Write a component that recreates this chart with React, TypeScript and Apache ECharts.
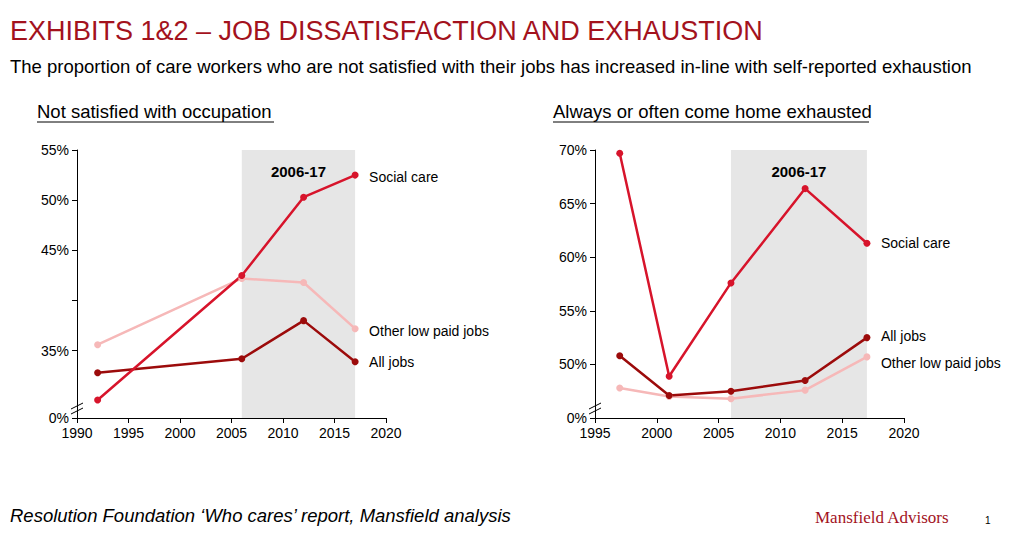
import { useEffect, useRef } from 'react';
import * as echarts from 'echarts';

const leftYears = [1992, 2006, 2012, 2017];
const leftSocial = [30.1, 42.5, 50.3, 52.5];
const leftOther = [35.6, 42.2, 41.8, 37.2];
const leftAll = [32.8, 34.2, 38.0, 33.9];

const rightYears = [1997, 2001, 2006, 2012, 2017];
const rightSocial = [69.7, 48.9, 57.6, 66.4, 61.3];
const rightAll = [50.8, 47.1, 47.5, 48.5, 52.5];
const rightOther = [47.8, 47.0, 46.8, 47.6, 50.7];

const leftTicks = [28.3, 35, 40, 45, 50, 55];
const rightTicks = [45, 50, 55, 60, 65, 70];

const RED = '#d7142b';
const DARK = '#9c0b0b';
const PINK = '#f6b8b8';
const FONT = 'Liberation Sans';

const zip = (xs: number[], ys: number[]) => xs.map((x, i) => [x, ys[i]]);

const App = () => {
  const ref = useRef<HTMLDivElement>(null);

  useEffect(() => {
    if (!ref.current) return;
    const chart = echarts.init(ref.current, undefined, { renderer: 'svg' });

    const xAxisBase = (idx: number, min: number) => ({
      type: 'value' as const, gridIndex: idx, min, max: 2020, interval: 5,
      axisLine: { lineStyle: { color: '#000' } },
      axisTick: { show: true, lineStyle: { color: '#000' } },
      axisLabel: { color: '#000', fontSize: 14, fontFamily: FONT, formatter: (v: number) => String(v) },
      splitLine: { show: false },
    });
    const yAxisBase = (idx: number, min: number, max: number, ticks: number[], blank: number[]) => ({
      type: 'value' as const, gridIndex: idx, min, max,
      axisLine: { show: true, lineStyle: { color: '#000' } },
      axisTick: { show: true, customValues: ticks, lineStyle: { color: '#000' } },
      axisLabel: {
        color: '#000', fontSize: 14, fontFamily: FONT, customValues: ticks,
        formatter: (v: number) => (v === min ? '0%' : blank.includes(v) ? '' : `${v}%`),
      },
      splitLine: { show: false },
    });

    const line = (name: string, color: string, data: number[][], xi: number, offset: number[], extra: any = {}) => ({
      name, type: 'line', xAxisIndex: xi, yAxisIndex: xi, data,
      symbol: 'circle', symbolSize: 7, itemStyle: { color },
      lineStyle: { color, width: 2.5 },
      endLabel: { show: true, formatter: name, color: '#000', fontSize: 14, fontFamily: FONT, offset, distance: 14 },
      ...extra,
    });
    const shade = (label: string, lo: number, hi: number) => ({
      markArea: {
        silent: true,
        itemStyle: { color: '#e6e6e6' },
        label: { show: true, position: 'insideTop', color: '#000', fontSize: 15, fontWeight: 'bold', fontFamily: FONT, distance: 14 },
        data: [[{ coord: [2006, hi], name: label }, { coord: [2017, lo] }]],
      },
    });

    const brk = (x: number, y: number) => [
      { type: 'line', shape: { x1: x - 6, y1: y + 3, x2: x + 6, y2: y - 3 }, style: { stroke: '#000', lineWidth: 1 } },
      { type: 'line', shape: { x1: x - 6, y1: y + 8, x2: x + 6, y2: y + 2 }, style: { stroke: '#000', lineWidth: 1 } },
    ];

    chart.setOption({
      animation: false,
      grid: [
        { left: 77, right: 638, top: 150, bottom: 130 },
        { left: 595, right: 120, top: 150, bottom: 130 },
      ],
      xAxis: [xAxisBase(0, 1990), xAxisBase(1, 1995)],
      yAxis: [
        yAxisBase(0, 28.3, 55, leftTicks, [40]),
        yAxisBase(1, 45, 70, rightTicks, []),
      ],
      series: [
        line('Other low paid jobs', PINK, zip(leftYears, leftOther), 0, [0, 2]),
        line('All jobs', DARK, zip(leftYears, leftAll), 0, [0, 0]),
        line('Social care', RED, zip(leftYears, leftSocial), 0, [0, 2], shade('2006-17', 28.3, 55)),
        line('Other low paid jobs', PINK, zip(rightYears, rightOther), 1, [0, 6]),
        line('All jobs', DARK, zip(rightYears, rightAll), 1, [0, -2]),
        line('Social care', RED, zip(rightYears, rightSocial), 1, [0, 0], shade('2006-17', 45, 70)),
      ],
      graphic: [
        { type: 'text', left: 10, top: 17, style: { text: 'EXHIBITS 1&2 – JOB DISSATISFACTION AND EXHAUSTION', fill: '#a3121d', fontSize: 27, fontFamily: FONT } },
        { type: 'text', left: 10, top: 57, style: { text: 'The proportion of care workers who are not satisfied with their jobs has increased in-line with self-reported exhaustion', fill: '#000', fontSize: 18.5, fontFamily: FONT } },
        { type: 'text', left: 37, top: 102, style: { text: 'Not satisfied with occupation', fill: '#000', fontSize: 18.5, fontFamily: FONT } },
        { type: 'line', shape: { x1: 37, y1: 122, x2: 274, y2: 122 }, style: { stroke: '#000', lineWidth: 1 } },
        { type: 'text', left: 553, top: 102, style: { text: 'Always or often come home exhausted', fill: '#000', fontSize: 18.5, fontFamily: FONT } },
        { type: 'line', shape: { x1: 553, y1: 122, x2: 869, y2: 122 }, style: { stroke: '#000', lineWidth: 1 } },
        ...brk(77, 406),
        ...brk(595, 406),
        { type: 'text', left: 10, top: 506, style: { text: 'Resolution Foundation ‘Who cares’ report, Mansfield analysis', fill: '#000', fontSize: 18.5, fontStyle: 'italic', fontFamily: FONT } },
        { type: 'text', left: 815, top: 509, style: { text: 'Mansfield Advisors', fill: '#a3121d', fontSize: 17, fontFamily: 'Liberation Serif' } },
        { type: 'text', left: 985, top: 515, style: { text: '1', fill: '#000', fontSize: 10, fontFamily: FONT } },
      ],
    });

    return () => chart.dispose();
  }, []);

  return <div ref={ref} style={{ position: 'absolute', left: 0, top: 0, width: 1024, height: 548, background: '#fff' }} />;
};

export default App;
